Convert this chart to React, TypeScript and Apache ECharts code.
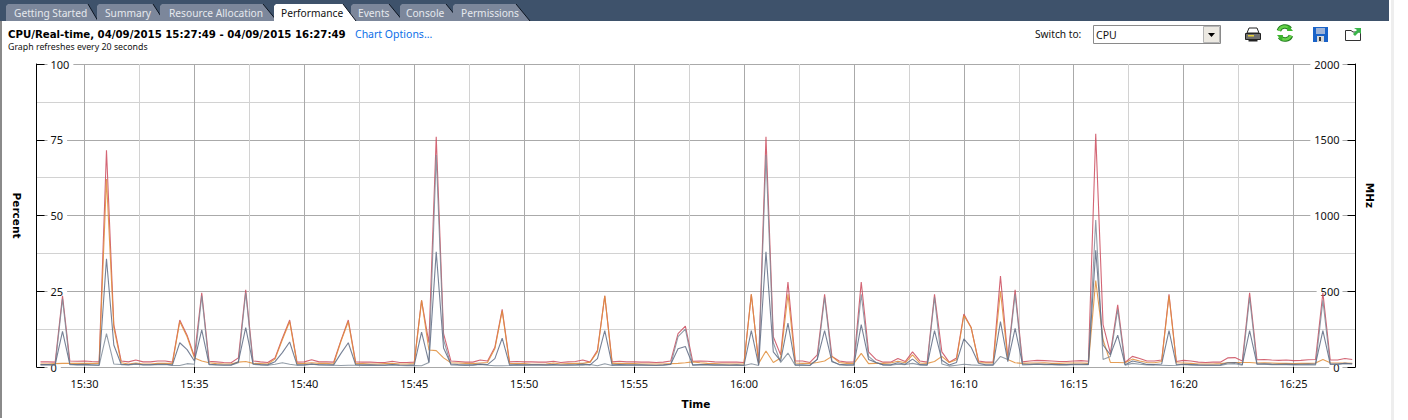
import React, { useEffect, useRef } from "react";
import * as echarts from "echarts";

const FIRST_SAMPLE = 55680; // 15:28:00 in seconds of the day
const STEP = 20;
const RANGE_MIN = 55669; // 15:27:49
const RANGE_MAX = 59269; // 16:27:49
const majorTimes = [55800, 56100, 56400, 56700, 57000, 57300, 57600, 57900, 58200, 58500, 58800, 59100];
const minorTimes = [55950, 56250, 56550, 56850, 57150, 57450, 57750, 58050, 58350, 58650, 58950];

const usageTotal = [
  1.7, 1.7, 1.6, 23.5, 2.0, 1.9, 2.0, 1.8, 1.7, 71.5,
  14, 2.0, 1.7, 2.3, 1.7, 1.7, 2.0, 2.0, 1.6, 15.5,
  10.5, 3.5, 24.5, 1.9, 1.7, 1.5, 1.4, 3.0, 25.5, 2.0,
  1.7, 1.5, 3.0, 9.5, 15.5, 1.6, 1.7, 2.4, 1.7, 1.7,
  1.6, 8.8, 15.5, 1.7, 1.6, 1.6, 1.5, 1.5, 1.9, 1.5,
  1.5, 1.6, 22, 8, 76, 11, 2.0, 1.8, 1.6, 1.6,
  2.3, 2.0, 6.5, 19, 1.7, 1.8, 1.7, 1.7, 1.6, 1.6,
  1.9, 1.5, 1.7, 1.8, 2.3, 1.6, 5.5, 23.5, 1.7, 1.9,
  1.7, 1.7, 1.6, 1.6, 1.5, 1.6, 2.0, 11, 13.5, 1.9,
  2.0, 1.9, 1.7, 1.6, 1.6, 1.6, 1.5, 24, 1.5, 76,
  10, 4, 28, 2, 2, 1.5, 4, 24, 3.5, 2,
  1.6, 1.7, 28, 5, 2.5, 1.6, 1.6, 2.8, 1.8, 5,
  2, 1.6, 24, 5, 1.6, 3, 17.5, 13, 2, 1.6,
  1.6, 30, 3, 25.5, 1.7, 2.0, 2.2, 2.1, 2.0, 1.8,
  1.8, 2, 2.1, 1.9, 77, 14, 4.5, 20.5, 1.5, 3.5,
  2.8, 2, 2, 2.3, 24, 1.8, 2.2, 2.0, 1.6, 1.5,
  1.6, 1.6, 3.0, 3.1, 2.0, 24.5, 2.4, 2.5, 2.3, 2.2,
  2.3, 2.1, 2.2, 2.4, 2.5, 24.5, 2.3, 2.3, 2.8, 2.5,
];

const usageCore0 = [
  1.0, 1.0, 1.1, 1.2, 1.2, 1.2, 1.2, 1.2, 1.2, 62,
  13, 1.4, 1.0, 1.3, 1.0, 1.0, 1.2, 1.2, 1.1, 15,
  10, 3.0, 2.0, 1.4, 1.1, 1.0, 1.0, 1.6, 1.8, 1.2,
  1.1, 1.0, 2.6, 9.0, 15, 1.1, 1.2, 1.4, 1.2, 1.2,
  1.0, 8.5, 15, 1.1, 1.1, 1.0, 1.0, 1.1, 1.2, 1.0,
  1.0, 1.1, 22, 5.6, 5.4, 3.0, 1.4, 1.3, 1.2, 1.1,
  1.3, 1.5, 6, 18.5, 1.2, 1.1, 1.1, 0.9, 0.9, 1.0,
  1.3, 1.0, 1.1, 1.2, 1.2, 1.6, 5, 23.5, 1.2, 1.2,
  1.1, 1.1, 1.0, 1.0, 1.0, 1.0, 1.1, 1.2, 1.4, 1.7,
  1.4, 1.2, 1.1, 1.0, 1.0, 1.0, 1.0, 24, 1.2, 5.3,
  1.5, 3, 24, 1.3, 1.2, 1.2, 1.5, 2.0, 3.5, 1.5,
  1.2, 1.2, 4.5, 1.1, 1.2, 1.2, 1.3, 1.9, 1.4, 4,
  1.3, 1.2, 1.8, 3.5, 1.5, 2.4, 17, 13, 1.5, 1.3,
  1.3, 25, 2.5, 1.4, 1.2, 1.3, 1.3, 1.4, 1.2, 1.2,
  1.3, 1.3, 1.3, 1.2, 28.5, 9, 1.5, 1.5, 1.4, 2.6,
  2.0, 1.5, 1.4, 1.8, 23.5, 1.4, 1.3, 1.2, 1.0, 1.0,
  1.0, 1.1, 1.4, 1.5, 1.5, 1.5, 1.3, 1.4, 1.3, 1.2,
  1.2, 1.1, 1.2, 1.2, 1.3, 2.5, 1.4, 1.3, 1.3, 1.2,
];

const usageCore1 = [
  0.7, 0.7, 0.6, 22.5, 0.8, 0.7, 0.7, 0.6, 0.5, 11,
  1.0, 0.8, 0.7, 0.9, 0.7, 0.7, 0.8, 0.8, 0.5, 0.5,
  1.1, 0.9, 23.5, 0.8, 0.7, 0.6, 0.6, 1.4, 24.5, 0.9,
  0.7, 0.6, 0.9, 1.4, 0.9, 0.6, 0.6, 0.9, 0.7, 0.6,
  0.6, 0.5, 0.6, 0.6, 0.5, 0.6, 0.5, 0.5, 0.7, 0.5,
  0.4, 0.5, 0.4, 1.5, 70, 9, 0.7, 0.6, 0.5, 0.6,
  0.8, 0.6, 0.4, 0.4, 0.5, 0.7, 0.6, 0.7, 0.7, 0.6,
  0.7, 0.6, 0.6, 0.6, 0.6, 0.8, 0.4, 1.1, 0.5, 0.7,
  0.6, 0.6, 0.6, 0.5, 0.5, 0.6, 0.8, 10, 12.5, 0.5,
  0.7, 0.7, 0.6, 0.6, 0.5, 0.6, 0.5, 1.1, 0.5, 70,
  8, 1.5, 4.6, 0.5, 0.5, 0.5, 2.5, 23, 2, 0.7,
  0.6, 0.6, 24, 3.5, 1.5, 0.7, 0.6, 0.9, 0.8, 1.2,
  0.7, 0.6, 23, 1, 0.3, 0.6, 0.9, 0.7, 0.6, 0.6,
  0.6, 3.5, 2.5, 24, 0.7, 0.8, 0.9, 0.8, 0.8, 0.7,
  0.7, 0.8, 0.8, 0.8, 48.5, 2.5, 3.5, 19, 0.6, 1.2,
  0.9, 0.7, 0.7, 0.6, 0.5, 0.6, 0.8, 0.7, 0.6, 0.5,
  0.5, 0.5, 1.0, 1.1, 0.6, 23, 0.9, 0.9, 0.8, 0.8,
  0.8, 0.7, 0.7, 0.7, 0.7, 22, 0.9, 0.9, 1.2, 1.0,
];

const usageMhz = [
  16, 16, 15, 235, 18, 16, 17, 15, 13, 715,
  145, 18, 15, 21, 15, 15, 18, 18, 14, 160,
  115, 40, 245, 18, 15, 13, 13, 35, 260, 20,
  16, 14, 35, 95, 165, 14, 15, 20, 15, 15,
  14, 90, 160, 15, 14, 14, 13, 13, 16, 13,
  12, 14, 230, 30, 760, 125, 20, 16, 14, 14,
  19, 16, 55, 190, 14, 15, 14, 15, 14, 14,
  16, 13, 14, 15, 19, 14, 55, 240, 14, 16,
  14, 14, 14, 13, 12, 14, 18, 120, 135, 15,
  16, 16, 14, 14, 13, 14, 12, 240, 13, 760,
  100, 40, 290, 15, 15, 12, 50, 240, 35, 18,
  14, 15, 280, 50, 30, 14, 14, 28, 18, 52,
  16, 14, 240, 45, 13, 30, 185, 130, 25, 14,
  14, 300, 35, 255, 20, 18, 20, 18, 17, 16,
  16, 18, 18, 17, 770, 145, 80, 210, 15, 40,
  30, 17, 16, 20, 240, 15, 18, 16, 14, 13,
  13, 14, 28, 30, 16, 240, 20, 21, 19, 18,
  19, 17, 18, 19, 20, 240, 19, 19, 24, 21,
];

const tabLabels = ["Getting Started", "Summary", "Resource Allocation", "Performance", "Events", "Console", "Permissions"];
const titleText = "CPU/Real-time, 04/09/2015 15:27:49 - 04/09/2015 16:27:49";
const subtitleText = "Graph refreshes every 20 seconds";
const optionsText = "Chart Options...";
const switchText = "Switch to:";
const comboText = "CPU";

const tabGeometry = [
  [6, 88, 98, 14],
  [97, 153, 164, 105],
  [160, 263, 277, 169],
  [274, 343, 356, 281],
  [351, 389, 403, 358],
  [400, 446, 460, 406],
  [453, 516, 530, 461],
];

const UI_FONT = "'Noto Sans', sans-serif";
const BOLD_FONT = "'DejaVu Sans', sans-serif";

function pairs(values: number[]) {
  return values.map((v, i) => [FIRST_SAMPLE + i * STEP, v]);
}

function clock(sec: number) {
  const h = Math.floor(sec / 3600);
  const m = Math.floor((sec % 3600) / 60);
  return `${h}:${String(m).padStart(2, "0")}`;
}

function buildTabs() {
  const out: any[] = [];
  const order = [0, 1, 2, 4, 5, 6, 3];
  order.forEach((idx) => {
    const [l, rt, rb, tx] = tabGeometry[idx];
    const active = idx === 3;
    out.push({
      type: "polygon",
      silent: true,
      shape: { points: [[l, 21], [l, 6], [l + 2, 4], [rt, 4], [rb, 21]] },
      style: { fill: active ? "#ffffff" : "#7c879b", stroke: "none" },
    });
    out.push({
      type: "line",
      silent: true,
      shape: { x1: rt, y1: 4, x2: rb, y2: 21 },
      style: { stroke: "#0c1420", lineWidth: 1 },
    });
    out.push({
      type: "text",
      silent: true,
      x: tx,
      y: 12.5,
      style: { text: tabLabels[idx], font: `10.2px ${UI_FONT}`, fill: active ? "#111111" : "#e6e9ee", textVerticalAlign: "middle" },
    });
  });
  return out;
}

function buildIcons() {
  const r = (x: number, y: number, width: number, height: number, fill: string, stroke = "none") => ({
    type: "rect",
    silent: true,
    shape: { x, y, width, height },
    style: { fill, stroke, lineWidth: 1 },
  });
  const poly = (points: number[][], fill: string, stroke = "none") => ({
    type: "polygon",
    silent: true,
    shape: { points },
    style: { fill, stroke, lineWidth: 1 },
  });
  const arc = (cx: number, cy: number, radius: number, a: number, b: number, stroke: string, lineWidth: number) => ({
    type: "arc",
    silent: true,
    shape: { cx, cy, r: radius, startAngle: a, endAngle: b },
    style: { stroke, lineWidth, fill: "none" },
  });
  return [
    // printer
    poly([[1249, 28], [1257, 28], [1259, 33], [1247, 33]], "#ffffff", "#222222"),
    r(1245.5, 33.5, 15, 6, "#6f6f6f", "#222222"),
    r(1248, 35, 6, 1.5, "#e8d23a"),
    r(1248.5, 39.5, 9, 2, "#222222"),
    // refresh
    arc(1285, 33, 6.5, 3.5, 5.6, "#1f7a1c", 4.6),
    arc(1285, 33, 6.5, 0.4, 2.5, "#1f7a1c", 4.6),
    arc(1285, 33, 6.5, 3.5, 5.6, "#66d24a", 2.6),
    arc(1285, 33, 6.5, 0.4, 2.5, "#66d24a", 2.6),
    poly([[1288, 25], [1293, 31], [1287, 31]], "#3cb52d"),
    poly([[1282, 41], [1277, 35], [1283, 35]], "#3cb52d"),
    // save
    r(1313, 27, 15, 15, "#1a63c8"),
    r(1316, 28, 9, 6, "#9fb4d8"),
    r(1317, 36, 7, 6, "#d9d9d9"),
    r(1319, 37, 2, 4, "#3a3a3a"),
    // export
    poly([[1345.5, 30.5], [1351, 30.5], [1353, 32], [1360.5, 32], [1360.5, 40.5], [1345.5, 40.5]], "#ffffff", "#333333"),
    poly([[1354, 28], [1361, 28], [1361, 34], [1359, 32], [1355, 36], [1353, 34], [1357, 30]], "#39b54a"),
  ];
}

function buildGraphics() {
  return [
    { type: "rect", silent: true, shape: { x: 0, y: 0, width: 1389, height: 21 }, style: { fill: "#3e526b" } },
    ...buildTabs(),
    { type: "rect", silent: true, shape: { x: 0, y: 21, width: 2, height: 397 }, style: { fill: "#8a8a8a" } },
    { type: "rect", silent: true, shape: { x: 1391, y: 0, width: 3, height: 420 }, style: { fill: "#eeeeee" } },
    { type: "text", silent: true, x: 8, y: 34, style: { text: titleText, font: `bold 10.2px ${BOLD_FONT}`, fill: "#000000", textVerticalAlign: "middle" } },
    { type: "text", silent: true, x: 355, y: 34, style: { text: optionsText, font: `10.5px ${UI_FONT}`, fill: "#0b6fe8", textVerticalAlign: "middle" } },
    { type: "text", silent: true, x: 8, y: 47, style: { text: subtitleText, font: `8.8px ${UI_FONT}`, fill: "#111111", textVerticalAlign: "middle" } },
    { type: "text", silent: true, x: 1035, y: 34, style: { text: switchText, font: `10.2px ${UI_FONT}`, fill: "#111111", textVerticalAlign: "middle" } },
    { type: "rect", silent: true, shape: { x: 1093.5, y: 25.5, width: 127, height: 18 }, style: { fill: "#ffffff", stroke: "#8a8a8a", lineWidth: 1 } },
    { type: "text", silent: true, x: 1096, y: 35, style: { text: comboText, font: `10.5px ${UI_FONT}`, fill: "#111111", textVerticalAlign: "middle" } },
    { type: "rect", silent: true, shape: { x: 1203.5, y: 26.5, width: 16, height: 16 }, style: { fill: "#ece9e2", stroke: "#b5b5b5", lineWidth: 1 } },
    { type: "polygon", silent: true, shape: { points: [[1208, 33], [1215, 33], [1211.5, 37]] }, style: { fill: "#000000" } },
    ...buildIcons(),
  ];
}

const lineSeries = (name: string, values: number[], color: string, yAxisIndex: number, width = 1.1) => ({
  name,
  type: "line",
  xAxisIndex: 0,
  yAxisIndex,
  data: pairs(values),
  showSymbol: false,
  symbol: "none",
  silent: true,
  lineStyle: { color, width, opacity: 0.85 },
});

export default function App() {
  const ref = useRef<HTMLDivElement>(null);
  useEffect(() => {
    if (!ref.current) return;
    const chart = echarts.init(ref.current, undefined, { renderer: "svg" });
    chart.setOption({
      animation: false,
      backgroundColor: "#ffffff",
      tooltip: { show: false },
      legend: { show: false },
      grid: { left: 36.5, right: 52.5, top: 64, bottom: 53, containLabel: false, outerBoundsMode: "none" },
      xAxis: [
        {
          type: "value",
          min: RANGE_MIN,
          max: RANGE_MAX,
          position: "bottom",
          name: "Time",
          nameLocation: "middle",
          nameGap: 31,
          nameTextStyle: { fontWeight: "bold", fontSize: 10.5, fontFamily: BOLD_FONT, color: "#000" },
          axisLine: { lineStyle: { color: "#a8a8a8", width: 1 } },
          axisTick: { show: true, customValues: majorTimes, length: 6, lineStyle: { color: "#000", width: 1 } },
          axisLabel: { customValues: majorTimes, formatter: (v: number) => clock(v), fontFamily: UI_FONT, fontSize: 11, color: "#111", margin: 11 },
          splitLine: { show: true, lineStyle: { color: "#aaaaaa", width: 1 } },
        },
        {
          type: "value",
          min: RANGE_MIN,
          max: RANGE_MAX,
          position: "bottom",
          axisLine: { show: false },
          axisTick: { show: false, customValues: minorTimes },
          axisLabel: { show: false, customValues: minorTimes },
          splitLine: { show: true, lineStyle: { color: "#d2d2d2", width: 1 } },
        },
      ],
      yAxis: [
        {
          type: "value",
          min: 0,
          max: 100,
          interval: 25,
          position: "left",
          name: "Percent",
          nameLocation: "middle",
          nameRotate: -90,
          nameGap: 14,
          nameTextStyle: { fontWeight: "bold", fontSize: 10.5, fontFamily: BOLD_FONT, color: "#000" },
          axisLine: { show: true, lineStyle: { color: "#000", width: 1 } },
          axisTick: { show: true, inside: true, length: 8, lineStyle: { color: "#000", width: 1 } },
          axisLabel: { inside: true, margin: 11, fontFamily: UI_FONT, fontSize: 11, color: "#111", backgroundColor: "#fff", padding: [0, 4, 0, 3] },
          splitLine: { show: true, lineStyle: { color: "#aaaaaa", width: 1 } },
          minorTick: { show: false, splitNumber: 2 },
          minorSplitLine: { show: true, lineStyle: { color: "#d2d2d2", width: 1 } },
        },
        {
          type: "value",
          min: 0,
          max: 2000,
          interval: 500,
          position: "right",
          name: "MHz",
          nameLocation: "middle",
          nameRotate: -90,
          nameGap: 8,
          nameTextStyle: { fontWeight: "bold", fontSize: 10.5, fontFamily: BOLD_FONT, color: "#000", padding: [0, 40, 0, 0] },
          axisLine: { show: true, lineStyle: { color: "#000", width: 1 } },
          axisTick: { show: true, inside: true, length: 8, lineStyle: { color: "#000", width: 1 } },
          axisLabel: { inside: true, margin: 13, formatter: (v: number) => String(v), fontFamily: UI_FONT, fontSize: 11, color: "#111", backgroundColor: "#fff", padding: [0, 3, 0, 4] },
          splitLine: { show: false },
        },
      ],
      graphic: { elements: buildGraphics() },
      series: [
        lineSeries("Usage total", usageTotal, "#cb4a5c", 0),
        lineSeries("Usage 0", usageCore0, "#e08d38", 0),
        lineSeries("Usage 1", usageCore1, "#808c99", 0),
        lineSeries("Usage in MHz", usageMhz, "#5e6b84", 1),
      ],
    });
    return () => chart.dispose();
  }, []);
  return (
    <div style={{ position: "fixed", left: 0, top: 0, width: 1408, height: 420, overflow: "hidden" }}>
      <div ref={ref} style={{ width: 1408, height: 420 }} />
    </div>
  );
}
